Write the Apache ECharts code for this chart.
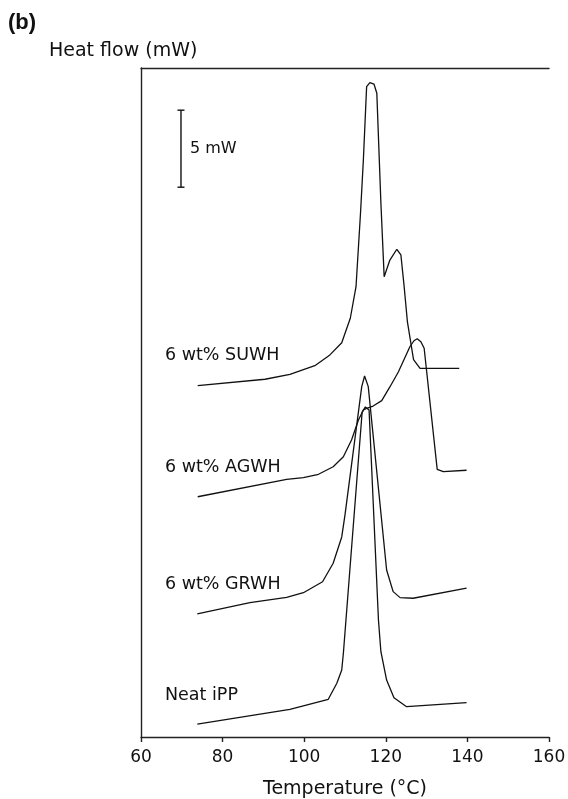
<!DOCTYPE html>
<html>
<head>
<meta charset="utf-8">
<style>
  html, body { margin: 0; padding: 0; background: #fff; }
  #chart { width: 568px; height: 799px; }
</style>
<script src="https://cdn.jsdelivr.net/npm/echarts@6/dist/echarts.min.js"></script>
</head>
<body>
<div id="chart"></div>
<script>
// DSC cooling traces (stacked, offset heat flow in mW)
const xTicks = [60, 80, 100, 120, 140, 160];

const neatT = [73.8, 96.5, 105.9, 108.0, 109.2, 109.6, 114.2, 115.0, 115.9, 118.2, 118.8, 120.2, 122.0, 125.1, 139.8];
const neatY = [0.84, 1.80, 2.45, 3.49, 4.35, 5.44, 21.10, 21.43, 21.23, 7.60, 5.54, 3.70, 2.55, 1.97, 2.23];

const grwhT = [73.8, 86.7, 95.7, 99.8, 104.5, 107.1, 109.2, 110.0, 114.1, 114.8, 115.7, 120.2, 121.8, 123.5, 126.7, 139.8];
const grwhY = [7.99, 8.72, 9.07, 9.37, 10.08, 11.28, 12.99, 14.42, 22.75, 23.44, 22.75, 10.84, 9.44, 9.05, 9.01, 9.66];

const agwhT = [73.9, 95.7, 99.8, 103.5, 107.1, 109.6, 111.6, 113.3, 114.5, 115.3, 116.9, 119.0, 121.0, 123.1, 125.9, 126.9, 127.7, 128.6, 129.4, 132.6, 134.1, 139.8];
const agwhY = [15.60, 16.73, 16.84, 17.06, 17.55, 18.20, 19.29, 20.58, 21.23, 21.34, 21.49, 21.84, 22.73, 23.72, 25.34, 25.73, 25.86, 25.67, 25.24, 17.38, 17.23, 17.32];

const suwhT = [73.9, 90.4, 96.5, 102.6, 106.3, 109.2, 111.3, 112.7, 113.8, 114.5, 115.3, 116.1, 117.1, 117.8, 118.8, 119.6, 121.0, 122.7, 123.7, 124.5, 125.3, 126.8, 128.4, 138.0];
const suwhY = [22.81, 23.23, 23.55, 24.11, 24.81, 25.60, 27.19, 29.24, 34.01, 37.47, 42.23, 42.49, 42.40, 41.80, 34.66, 29.89, 30.97, 31.67, 31.30, 29.24, 26.95, 24.51, 23.94, 23.94];

const seriesNames = ['Neat iPP', '6 wt% GRWH', '6 wt% AGWH', '6 wt% SUWH'];

// 5 mW scale bar
const scaleBarT = 69.8;
const scaleBarTop = 40.7;
const scaleBarSpan = 5;
const scaleBarText = '5 mW';

const yMax = 43.44;
const FONT = 'DejaVu Sans';
const INK = '#111';

function pairs(t, y) { return t.map((v, i) => [v, y[i]]); }

function traceSeries(name, t, y) {
  return {
    name: name,
    type: 'line',
    data: pairs(t, y),
    showSymbol: false,
    symbol: 'none',
    smooth: false,
    silent: true,
    animation: false,
    lineStyle: { color: INK, width: 1.3 }
  };
}

const chart = echarts.init(document.getElementById('chart'), null, { renderer: 'canvas' });

chart.setOption({
  backgroundColor: '#fff',
  animation: false,
  grid: { left: 141, right: 19, top: 68, bottom: 62, containLabel: false, outerBoundsMode: 'none' },
  xAxis: [
    {
      type: 'value', min: xTicks[0], max: xTicks[xTicks.length - 1], interval: 20,
      position: 'bottom',
      axisLine: { show: true, lineStyle: { color: '#222', width: 1.4 } },
      axisTick: { show: true, inside: false, length: 5, lineStyle: { color: '#222', width: 1.4 } },
      axisLabel: { show: true, color: '#111', fontFamily: FONT, fontSize: 17, margin: 12 },
      splitLine: { show: false },
      name: 'Temperature (°C)', nameLocation: 'middle', nameGap: 43,
      nameTextStyle: { color: '#111', fontFamily: FONT, fontSize: 19 }
    },
    {
      type: 'value', min: xTicks[0], max: xTicks[xTicks.length - 1],
      position: 'top',
      axisLine: { show: true, lineStyle: { color: '#222', width: 1.4 } },
      axisTick: { show: false }, axisLabel: { show: false }, splitLine: { show: false }
    }
  ],
  yAxis: {
    type: 'value', min: 0, max: yMax,
    axisLine: { show: true, lineStyle: { color: '#222', width: 1.4 } },
    axisTick: { show: false }, axisLabel: { show: false }, splitLine: { show: false }
  },
  series: [
    traceSeries(seriesNames[0], neatT, neatY),
    traceSeries(seriesNames[1], grwhT, grwhY),
    traceSeries(seriesNames[2], agwhT, agwhY),
    traceSeries(seriesNames[3], suwhT, suwhY),
    {
      type: 'custom',
      silent: true,
      animation: false,
      data: [[scaleBarT, scaleBarTop, scaleBarTop - scaleBarSpan]],
      renderItem: function (params, api) {
        const top = api.coord([api.value(0), api.value(1)]);
        const bot = api.coord([api.value(0), api.value(2)]);
        const cap = 3.5;
        const st = { stroke: INK, lineWidth: 1.4 };
        return {
          type: 'group',
          children: [
            { type: 'line', shape: { x1: top[0], y1: top[1], x2: bot[0], y2: bot[1] }, style: st },
            { type: 'line', shape: { x1: top[0] - cap, y1: top[1], x2: top[0] + cap, y2: top[1] }, style: st },
            { type: 'line', shape: { x1: bot[0] - cap, y1: bot[1], x2: bot[0] + cap, y2: bot[1] }, style: st },
            { type: 'text', x: top[0] + 9, y: (top[1] + bot[1]) / 2,
              style: { text: scaleBarText, fill: '#111', font: '16px ' + FONT, textVerticalAlign: 'middle', verticalAlign: 'middle' } }
          ]
        };
      }
    }
  ],
  graphic: [
    { type: 'text', left: 8, top: 12, style: { text: '(b)', fill: '#111', font: 'bold 22px "Liberation Sans", Arial' } },
    { type: 'text', left: 49, top: 42, style: { text: 'Heat flow (mW)', fill: '#111', font: '19px ' + FONT } },
    { type: 'text', left: 165, top: 346, style: { text: seriesNames[3], fill: '#111', font: '17.5px ' + FONT } },
    { type: 'text', left: 165, top: 458, style: { text: seriesNames[2], fill: '#111', font: '17.5px ' + FONT } },
    { type: 'text', left: 165, top: 575, style: { text: seriesNames[1], fill: '#111', font: '17.5px ' + FONT } },
    { type: 'text', left: 165, top: 686, style: { text: seriesNames[0], fill: '#111', font: '17.5px ' + FONT } }
  ]
});
</script>
</body>
</html>
